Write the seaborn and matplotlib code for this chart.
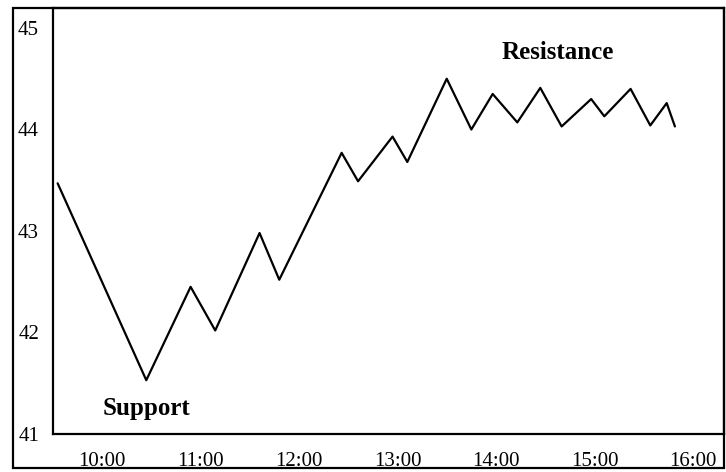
import matplotlib
matplotlib.use("Agg")
import matplotlib.pyplot as plt
from matplotlib.patches import Rectangle
import seaborn as sns
import pandas as pd

# price path
times = ["09:33", "10:27", "10:54", "11:09", "11:36", "11:48", "12:26", "12:36",
         "12:57", "13:06", "13:30", "13:45", "13:58", "14:13", "14:27", "14:40",
         "14:58", "15:06", "15:22", "15:34", "15:44", "15:49"]
prices = [43.47, 41.53, 42.45, 42.02, 42.98, 42.52, 43.77, 43.49,
          43.93, 43.68, 44.50, 44.00, 44.35, 44.07, 44.41, 44.03,
          44.30, 44.13, 44.40, 44.04, 44.26, 44.03]

x_ticks = [10, 11, 12, 13, 14, 15, 16]
x_labels = ["10:00", "11:00", "12:00", "13:00", "14:00", "15:00", "16:00"]
y_ticks = [41, 42, 43, 44, 45]

def to_hours(t):
    h, m = t.split(":")
    return int(h) + int(m) / 60

df = pd.DataFrame({"hour": [to_hours(t) for t in times], "price": prices})

sns.set_theme(style="white")
plt.rcParams["font.family"] = ["Liberation Serif", "DejaVu Serif"]

fig = plt.figure(figsize=(7.26, 4.72), dpi=100)
ax = fig.add_axes([53 / 726, 38 / 472, 671 / 726, 426 / 472])

sns.lineplot(data=df, x="hour", y="price", ax=ax, color="black", linewidth=1.6)

ax.set_xlim(9.503, 16.315)
ax.set_ylim(41, 45.197)
ax.set_xticks(x_ticks)
ax.set_xticklabels(x_labels)
ax.set_yticks(y_ticks)
ax.set_xlabel("")
ax.set_ylabel("")
ax.tick_params(axis="x", length=0, pad=13, labelsize=15, colors="black")
ax.tick_params(axis="y", length=0, pad=10, labelsize=15, colors="black")
for side in ["left", "bottom", "top", "right"]:
    ax.spines[side].set_color("black")
    ax.spines[side].set_linewidth(1.6)

ax.text(14.63, 44.76, "Resistance", ha="center", va="center",
        fontsize=18, fontweight="bold", color="black")
ax.text(10.457, 41.256, "Support", ha="center", va="center",
        fontsize=18, fontweight="bold", color="black")

# outer frame round the whole chart
fig.patches.append(Rectangle((13 / 726, 4 / 472), 711 / 726, 460 / 472,
                             transform=fig.transFigure, fill=False,
                             edgecolor="black", linewidth=1.6))

fig.savefig("out.png", dpi=100)
